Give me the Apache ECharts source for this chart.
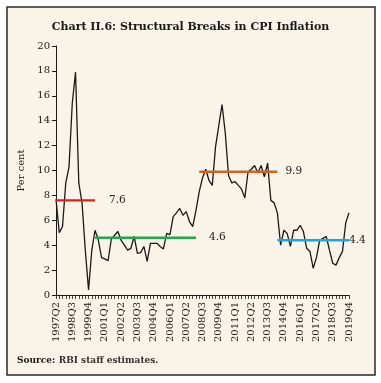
<!DOCTYPE html>
<html>
<head>
<meta charset="utf-8">
<script src="https://cdn.jsdelivr.net/npm/echarts@6/dist/echarts.min.js"></script>
<style>
html,body{margin:0;padding:0;background:#ffffff;}
#c{width:381px;height:383px;}
</style>
</head>
<body>
<div id="c"></div>
<script>
// Quarterly categories 1997Q2 .. 2019Q4
var categories = [
'1997Q2','1997Q3','1997Q4',
'1998Q1','1998Q2','1998Q3','1998Q4',
'1999Q1','1999Q2','1999Q3','1999Q4',
'2000Q1','2000Q2','2000Q3','2000Q4',
'2001Q1','2001Q2','2001Q3','2001Q4',
'2002Q1','2002Q2','2002Q3','2002Q4',
'2003Q1','2003Q2','2003Q3','2003Q4',
'2004Q1','2004Q2','2004Q3','2004Q4',
'2005Q1','2005Q2','2005Q3','2005Q4',
'2006Q1','2006Q2','2006Q3','2006Q4',
'2007Q1','2007Q2','2007Q3','2007Q4',
'2008Q1','2008Q2','2008Q3','2008Q4',
'2009Q1','2009Q2','2009Q3','2009Q4',
'2010Q1','2010Q2','2010Q3','2010Q4',
'2011Q1','2011Q2','2011Q3','2011Q4',
'2012Q1','2012Q2','2012Q3','2012Q4',
'2013Q1','2013Q2','2013Q3','2013Q4',
'2014Q1','2014Q2','2014Q3','2014Q4',
'2015Q1','2015Q2','2015Q3','2015Q4',
'2016Q1','2016Q2','2016Q3','2016Q4',
'2017Q1','2017Q2','2017Q3','2017Q4',
'2018Q1','2018Q2','2018Q3','2018Q4',
'2019Q1','2019Q2','2019Q3','2019Q4'
];

// CPI inflation (per cent)
var cpiInflation = [
7.7, 5.0, 5.5, 9.0, 10.3, 15.4, 17.9, 9.0, 7.4, 3.6,
0.4, 3.6, 5.2, 4.4, 3.0, 2.9, 2.75, 4.5, 4.8, 5.1,
4.4, 4.0, 3.6, 3.75, 4.7, 3.35, 3.4, 3.9, 2.7, 4.15,
4.15, 4.15, 3.9, 3.7, 4.95, 4.85, 6.3, 6.6, 6.95, 6.4,
6.7, 5.9, 5.5, 6.8, 8.3, 9.4, 10.1, 9.2, 8.8, 11.9,
13.6, 15.3, 13.0, 9.6, 9.0, 9.1, 8.8, 8.5, 7.8, 9.9,
10.1, 10.4, 9.8, 10.4, 9.5, 10.6, 7.6, 7.4, 6.6, 4.0,
5.2, 4.95, 3.9, 5.2, 5.2, 5.6, 5.1, 3.75, 3.5, 2.15,
3.0, 4.4, 4.55, 4.7, 3.6, 2.55, 2.4, 3.0, 3.5, 5.8,
6.6
];

// Structural break regimes (mean inflation)
var breakStart = ['1997Q2', '2000Q2', '2008Q2', '2014Q2'];
var breakEnd   = ['2000Q2', '2008Q1', '2014Q2', '2019Q4'];
var breakMean  = [7.6, 4.6, 9.9, 4.4];

// Y-axis ticks
var yMin = 0, yMax = 20, yStep = 2;

var breakColors = ['#c8262c', '#1aab4b', '#cc6428', '#1ea5dc'];
var breakLabelOffset = [[14, 0], [13, 0], [8, 0], [0, 0]];

var serif = '"DejaVu Serif", "Liberation Serif", serif';

var chart = echarts.init(document.getElementById('c'), null, {renderer: 'canvas'});

var series = [{
  type: 'line',
  data: cpiInflation,
  symbol: 'none',
  lineStyle: {color: '#1a1a1a', width: 1.3},
  z: 3,
  silent: true
}];

for (var k = 0; k < breakMean.length; k++) {
  series.push({
    type: 'line',
    data: [[breakStart[k], breakMean[k]], [breakEnd[k], breakMean[k]]],
    symbol: 'none',
    lineStyle: {color: breakColors[k], width: 2.4},
    z: 4,
    silent: true,
    endLabel: {
      show: true,
      formatter: String(breakMean[k].toFixed(1)),
      fontFamily: serif,
      fontSize: 10.5,
      color: '#222',
      distance: 0,
      offset: breakLabelOffset[k]
    }
  });
}

var option = {
  animation: false,
  backgroundColor: '#ffffff',
  title: {
    text: 'Chart II.6: Structural Breaks in CPI Inflation',
    left: 'center',
    top: 17,
    textStyle: {fontFamily: serif, fontWeight: 'bold', fontSize: 11, color: '#1a1a1a'}
  },
  graphic: [
    {
      type: 'rect',
      z: -10,
      shape: {x: 7, y: 7, width: 368, height: 368},
      style: {fill: '#faf3e7', stroke: '#2a2a2a', lineWidth: 1.5}
    },
    {
      type: 'text',
      left: 17,
      top: 355,
      style: {
        text: '{b|Source:} {n|RBI staff estimates.}',
        rich: {
          b: {fontFamily: serif, fontWeight: 'bold', fontSize: 9, fill: '#1a1a1a'},
          n: {fontFamily: serif, fontWeight: 'bold', fontSize: 9, fill: '#333'}
        }
      }
    }
  ],
  grid: {left: 56, right: 32, top: 46, bottom: 88, containLabel: false},
  xAxis: {
    type: 'category',
    data: categories,
    boundaryGap: false,
    axisLine: {lineStyle: {color: '#1a1a1a', width: 1}},
    axisTick: {show: true, interval: 0, length: 4, lineStyle: {color: '#1a1a1a', width: 0.8}},
    axisLabel: {
      interval: 4,
      rotate: 90,
      fontFamily: serif,
      fontSize: 10,
      color: '#1a1a1a',
      margin: 7
    },
    splitLine: {show: false}
  },
  yAxis: {
    type: 'value',
    min: yMin,
    max: yMax,
    interval: yStep,
    name: 'Per cent',
    nameLocation: 'middle',
    nameGap: 30,
    nameTextStyle: {fontFamily: serif, fontSize: 10, color: '#1a1a1a'},
    axisLine: {show: true, lineStyle: {color: '#1a1a1a', width: 1}},
    axisTick: {show: true, length: 4, lineStyle: {color: '#1a1a1a'}},
    axisLabel: {fontFamily: serif, fontSize: 10, color: '#1a1a1a', margin: 6},
    splitLine: {show: false}
  },
  series: series
};

chart.setOption(option);
</script>
</body>
</html>
